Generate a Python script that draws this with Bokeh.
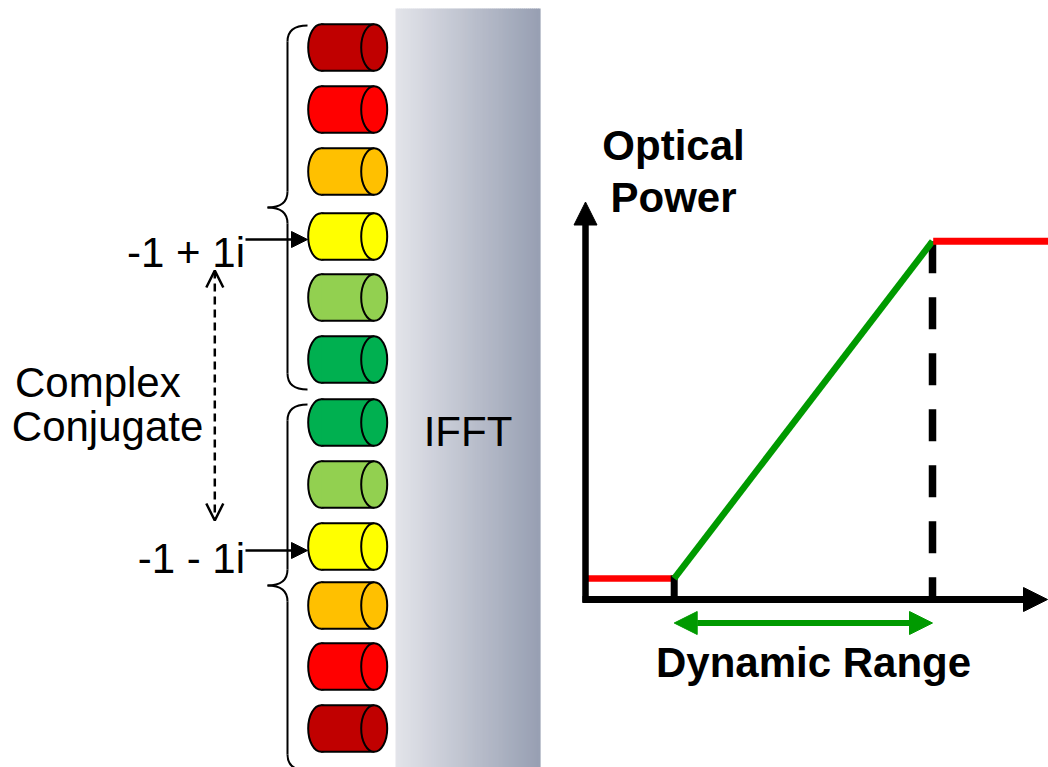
import numpy as np
from bokeh.plotting import figure
from bokeh.models import Range1d, Arrow, NormalHead, OpenHead
from bokeh.core.properties import value
from bokeh.embed import file_html
from bokeh.resources import INLINE

# ---------------- data (reference pixel positions, y measured from top) ----------------
cyl_colors = ["#C00000", "#FF0000", "#FFC000", "#FFFF00", "#92D050", "#00B050",
              "#00B050", "#92D050", "#FFFF00", "#FFC000", "#FF0000", "#C00000"]
cyl_center_y = [47, 109, 171, 236, 297, 359, 422, 484, 546, 605, 666, 728]
brace_spans = [(25, 207, 389), (404, 585, 770)]          # top, tip, bottom
symbol_labels = ["-1 + 1i", "-1 - 1i"]
symbol_label_y = [267, 573]
symbol_arrow_y = [239, 550]
conj_lines = ["Complex", "Conjugate"]
conj_x = [14.5, 11.3]
conj_y = [397, 441]
block_label = "IFFT"
y_title = ["Optical", "Power"]
y_title_base = [160, 212]
x_title = "Dynamic Range"

# transfer curve break points (x px, y px)
curve_x = [585, 673.7, 932, 1048]
curve_y = [578, 578, 240.8, 240.8]
axis_origin = (585, 599)

PAGE_W, PAGE_H = 1048, 767
TXT_DY = 15  # baseline correction for SVG text placement

def Y(py):
    return PAGE_H - np.asarray(py, dtype=float)

def YT(py):
    return Y(py) + TXT_DY

FONT = value("Liberation Sans")
GREEN = "#009A00"
RED = "#FF0000"

p = figure(width=PAGE_W, height=PAGE_H, x_range=Range1d(0, PAGE_W), y_range=Range1d(0, PAGE_H),
           output_backend="svg", toolbar_location=None, min_border=0,
           x_axis_type=None, y_axis_type=None)
p.grid.visible = False
p.outline_line_color = None
p.background_fill_color = "white"
p.border_fill_color = "white"

# ---------------- IFFT block with horizontal gradient ----------------
n_strips = 72
edges = np.linspace(395, 539.5, n_strips + 1)
c0 = np.array([227, 228, 234]); c1 = np.array([152, 160, 179])
t = np.linspace(0, 1, n_strips)
strip_cols = ["#%02x%02x%02x" % tuple((c0 + (c1 - c0) * tt).astype(int)) for tt in t]
p.quad(left=edges[:-1], right=edges[1:] + 0.6, top=Y(8), bottom=Y(770),
       fill_color=strip_cols, line_color=None)
p.text(x=[467.5], y=YT([446]), text=[block_label], text_font=FONT,
       text_font_size=value("42px"), text_align="center",
       text_baseline="alphabetic", text_color="black")

# ---------------- cylinders ----------------
cap_w, cyl_h = 26, 46.5
xl, xr = 320.7, 373.7
cy = Y(cyl_center_y)
p.ellipse(x=[xl] * 12, y=cy, width=cap_w, height=cyl_h, fill_color=cyl_colors,
          line_color="black", line_width=2)
p.quad(left=xl, right=xr, top=cy + cyl_h / 2, bottom=cy - cyl_h / 2,
       fill_color=cyl_colors, line_color=None)
p.segment(x0=[xl] * 12, y0=cy + cyl_h / 2, x1=[xr] * 12, y1=cy + cyl_h / 2,
          line_color="black", line_width=2)
p.segment(x0=[xl] * 12, y0=cy - cyl_h / 2, x1=[xr] * 12, y1=cy - cyl_h / 2,
          line_color="black", line_width=2)
p.ellipse(x=[xr] * 12, y=cy, width=cap_w, height=cyl_h, fill_color=cyl_colors,
          line_color="black", line_width=2)

# ---------------- braces ----------------
xe, xs, xt, r = 307, 287, 267, 16
for top, tip, bot in brace_spans:
    p.quadratic(x0=[xe, xs, xt, xs], y0=Y([top, tip - r, tip, bot - r]),
                x1=[xs, xt, xs, xe], y1=Y([top + r, tip, tip + r, bot]),
                cx=[xs, xs, xs, xs], cy=Y([top, tip, tip, bot]),
                line_color="black", line_width=2)
    p.segment(x0=[xs, xs], y0=Y([top + r, tip + r]), x1=[xs, xs], y1=Y([tip - r, bot - r]),
              line_color="black", line_width=2)

# ---------------- symbol labels & arrows ----------------
p.text(x=[244.5, 244.5], y=YT(symbol_label_y), text=symbol_labels, text_font=FONT,
       text_font_size=value("42px"), text_align="right", text_baseline="alphabetic",
       text_color="black")
for ay in symbol_arrow_y:
    p.add_layout(Arrow(x_start=245, y_start=float(Y(ay)), x_end=307, y_end=float(Y(ay)),
                       line_width=2.5, line_color="black",
                       end=NormalHead(size=16, fill_color="black", line_color="black")))

p.text(x=conj_x, y=YT(conj_y), text=conj_lines, text_font=FONT,
       text_font_size=value("42px"), text_align="left", text_baseline="alphabetic",
       text_color="black")
p.add_layout(Arrow(x_start=214.3, y_start=float(Y(270)), x_end=214.3, y_end=float(Y(520)),
                   line_width=2.5, line_color="black", line_dash="8 5",
                   start=OpenHead(size=17, line_width=2.5, line_color="black"),
                   end=OpenHead(size=17, line_width=2.5, line_color="black")))

# ---------------- transfer curve ----------------
ox, oy = axis_origin
p.add_layout(Arrow(x_start=ox, y_start=float(Y(oy + 3)), x_end=ox, y_end=float(Y(201.5)),
                   line_width=6.5, line_color="black",
                   end=NormalHead(size=23, fill_color="black", line_color="black", line_width=1)))
p.add_layout(Arrow(x_start=ox - 3, y_start=float(Y(oy)), x_end=1047, y_end=float(Y(oy)),
                   line_width=7, line_color="black",
                   end=NormalHead(size=24, fill_color="black", line_color="black", line_width=1)))

p.line(x=curve_x[:2], y=Y(curve_y[:2]), line_color=RED, line_width=6.5)
p.line(x=[curve_x[1], curve_x[1]], y=Y([curve_y[1] - 3, oy]), line_color="black", line_width=7)
p.line(x=[curve_x[2], curve_x[2]], y=Y([curve_y[2], oy]), line_color="black",
       line_width=7.5, line_dash="32 24")
p.line(x=curve_x[1:3], y=Y(curve_y[1:3]), line_color=GREEN, line_width=6.5)
p.line(x=[curve_x[2] + 0.7, curve_x[3]], y=Y(curve_y[2:4]), line_color=RED, line_width=7)

p.add_layout(Arrow(x_start=curve_x[1], y_start=float(Y(622.5)), x_end=curve_x[2], y_end=float(Y(622.5)),
                   line_width=6, line_color=GREEN,
                   start=NormalHead(size=23, fill_color=GREEN, line_color=GREEN, line_width=1),
                   end=NormalHead(size=23, fill_color=GREEN, line_color=GREEN, line_width=1)))

p.text(x=[673, 673], y=YT(y_title_base), text=y_title, text_font=FONT,
       text_font_size=value("42px"), text_font_style="bold", text_align="center",
       text_baseline="alphabetic", text_color="black")
p.text(x=[813], y=YT([677]), text=[x_title], text_font=FONT,
       text_font_size=value("42px"), text_font_style="bold", text_align="center",
       text_baseline="alphabetic", text_color="black")

open("out.html", "w").write(file_html(p, INLINE))
